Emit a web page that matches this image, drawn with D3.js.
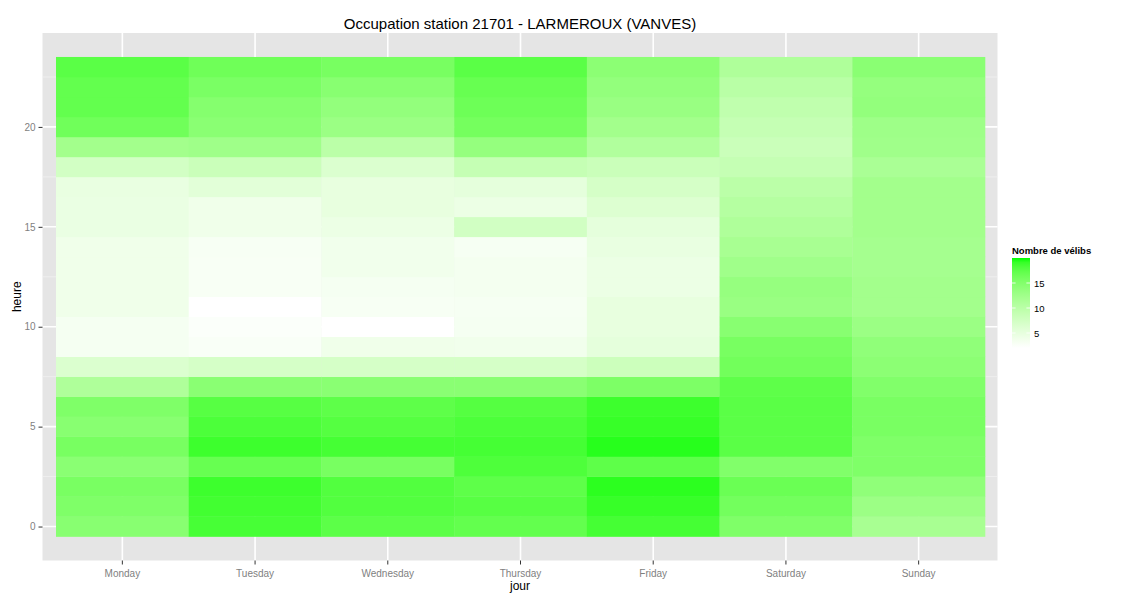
<!DOCTYPE html>
<html>
<head>
<meta charset="utf-8">
<script src="https://cdn.jsdelivr.net/npm/d3@7"></script>
<style>
  body { margin: 0; background: #fff; }
  text { font-family: "Liberation Sans", Arial, Helvetica, sans-serif; }
</style>
</head>
<body>
<svg id="chart" width="1125" height="600"></svg>
<script>
// jours et heures
const days = ['Monday', 'Tuesday', 'Wednesday', 'Thursday', 'Friday', 'Saturday', 'Sunday'];
const hours = d3.range(0, 24);
const hourTicks = [0, 5, 10, 15, 20];
const legendTicks = [5, 10, 15];
const fillLimits = [2, 20];

// nombre moyen de vélibs, heure 0 -> 23
const monday    = [14.6, 15.3, 15.7, 14.4, 15.8, 14.6, 15.3, 11.1, 6.4, 3.2, 3.2, 3.9, 3.9, 3.9, 3.9, 4.6, 4.6, 4.7, 7.4, 12.3, 16.3, 17.1, 17.1, 17.6];
const tuesday   = [18.5, 18.7, 18.9, 16.9, 18.9, 18.3, 17.8, 14.4, 7.1, 2.7, 2.5, 2.0, 2.9, 2.9, 3.0, 3.9, 3.9, 5.6, 8.3, 12.6, 14.4, 14.8, 15.6, 16.4];
const wednesday = [17.5, 18.0, 18.0, 15.8, 18.6, 17.9, 17.4, 14.4, 7.1, 3.9, 2.0, 3.0, 3.2, 3.7, 3.7, 4.4, 4.9, 4.9, 6.4, 9.9, 13.0, 13.7, 14.6, 15.8];
const thursday  = [17.1, 17.8, 17.4, 18.2, 18.6, 18.3, 17.9, 14.4, 7.1, 3.7, 3.2, 3.1, 3.4, 3.4, 3.1, 7.5, 4.4, 5.2, 8.8, 13.5, 16.0, 16.5, 16.9, 17.6];
const friday    = [18.6, 19.1, 19.4, 17.4, 19.5, 19.1, 18.9, 15.4, 8.1, 5.2, 4.9, 4.9, 4.4, 4.4, 4.7, 5.2, 6.2, 7.1, 8.3, 10.9, 12.3, 13.2, 13.7, 14.3];
const saturday  = [15.3, 16.1, 16.7, 15.1, 17.6, 17.6, 17.6, 17.4, 16.2, 15.8, 14.6, 13.2, 13.4, 12.5, 11.8, 11.1, 10.5, 9.9, 8.8, 8.3, 8.8, 9.4, 10.1, 11.1];
const sunday    = [11.8, 12.9, 13.9, 15.3, 15.3, 15.7, 15.7, 15.1, 14.3, 13.9, 13.0, 12.3, 12.3, 12.1, 12.1, 12.3, 12.3, 12.3, 11.6, 12.5, 12.7, 13.7, 13.5, 14.4];

const series = [monday, tuesday, wednesday, thursday, friday, saturday, sunday];
const cells = [];
days.forEach((day, i) => hours.forEach(h => cells.push({ day: day, hour: h, value: series[i][h] })));

const svg = d3.select('#chart');
const panel = { left: 42.5, right: 997.5, top: 33, bottom: 560.5 };

// échelles (expansion à la ggplot)
const x = d3.scaleBand().domain(days).range([56, 985]).padding(0);
const y = d3.scaleLinear().domain([-1.7, 24.7]).range([panel.bottom, panel.top]);
const color = d3.scaleLinear().domain(fillLimits).range(['#ffffff', '#00ff00']).interpolate(d3.interpolateLab);

// fond du panneau
svg.append('rect')
    .attr('x', panel.left).attr('y', panel.top)
    .attr('width', panel.right - panel.left).attr('height', panel.bottom - panel.top)
    .attr('fill', '#e5e5e5');

// grilles mineures
svg.append('g').selectAll('line')
    .data([2.5, 7.5, 12.5, 17.5, 22.5])
    .enter().append('line')
    .attr('x1', panel.left).attr('x2', panel.right)
    .attr('y1', d => y(d)).attr('y2', d => y(d))
    .attr('stroke', '#f2f2f2').attr('stroke-width', 0.8);

// grilles majeures
svg.append('g').selectAll('line')
    .data(hourTicks)
    .enter().append('line')
    .attr('x1', panel.left).attr('x2', panel.right)
    .attr('y1', d => y(d)).attr('y2', d => y(d))
    .attr('stroke', '#ffffff').attr('stroke-width', 1.6);

svg.append('g').selectAll('line')
    .data(days)
    .enter().append('line')
    .attr('x1', d => x(d) + x.bandwidth() / 2).attr('x2', d => x(d) + x.bandwidth() / 2)
    .attr('y1', panel.top).attr('y2', panel.bottom)
    .attr('stroke', '#ffffff').attr('stroke-width', 1.6);

// tuiles
svg.append('g').selectAll('rect')
    .data(cells)
    .enter().append('rect')
    .attr('x', d => x(d.day))
    .attr('y', d => y(d.hour + 0.5))
    .attr('width', x.bandwidth() + 0.3)
    .attr('height', y(0) - y(1) + 0.3)
    .attr('fill', d => color(d.value));

// axes
const xAxis = d3.axisBottom(x).tickSize(4).tickPadding(5);
const yAxis = d3.axisLeft(y).tickValues(hourTicks).tickSize(4).tickPadding(3);

const gx = svg.append('g').attr('transform', `translate(0,${panel.bottom})`).call(xAxis);
const gy = svg.append('g').attr('transform', `translate(${panel.left},0)`).call(yAxis);
[gx, gy].forEach(g => {
    g.select('.domain').remove();
    g.selectAll('.tick line').attr('stroke', '#333333');
    g.selectAll('.tick text').attr('fill', '#7f7f7f').style('font-size', '10px');
});

// titres
svg.append('text')
    .attr('x', (panel.left + panel.right) / 2).attr('y', 29)
    .attr('text-anchor', 'middle')
    .style('font-size', '15px')
    .text('Occupation station 21701 - LARMEROUX (VANVES)');

svg.append('text')
    .attr('x', (panel.left + panel.right) / 2).attr('y', 590)
    .attr('text-anchor', 'middle')
    .style('font-size', '12px')
    .text('jour');

svg.append('text')
    .attr('transform', `translate(21,${(panel.top + panel.bottom) / 2}) rotate(-90)`)
    .attr('text-anchor', 'middle')
    .style('font-size', '12px')
    .text('heure');

// légende
const legX = 1012, legW = 18;
const ly = d3.scaleLinear().domain(fillLimits).range([348, 258]);

const grad = svg.append('defs').append('linearGradient')
    .attr('id', 'legend-grad')
    .attr('x1', 0).attr('y1', 1).attr('x2', 0).attr('y2', 0);
d3.range(0, 1.0001, 0.05).forEach(t => {
    grad.append('stop')
        .attr('offset', t)
        .attr('stop-color', color(fillLimits[0] + t * (fillLimits[1] - fillLimits[0])));
});

svg.append('text')
    .attr('x', legX).attr('y', 254)
    .style('font-size', '9.5px').style('font-weight', 'bold')
    .text('Nombre de vélibs');

svg.append('rect')
    .attr('x', legX).attr('y', ly(fillLimits[1]))
    .attr('width', legW).attr('height', ly(fillLimits[0]) - ly(fillLimits[1]))
    .attr('fill', 'url(#legend-grad)');

const lt = svg.append('g').selectAll('g').data(legendTicks).enter().append('g');
lt.append('line')
    .attr('x1', legX).attr('x2', legX + 3.6)
    .attr('y1', d => ly(d)).attr('y2', d => ly(d))
    .attr('stroke', '#ffffff').attr('stroke-width', 0.8);
lt.append('line')
    .attr('x1', legX + legW - 3.6).attr('x2', legX + legW)
    .attr('y1', d => ly(d)).attr('y2', d => ly(d))
    .attr('stroke', '#ffffff').attr('stroke-width', 0.8);
lt.append('text')
    .attr('x', legX + legW + 4).attr('y', d => ly(d) + 3.5)
    .style('font-size', '9.5px')
    .text(d => d);
</script>
</body>
</html>
